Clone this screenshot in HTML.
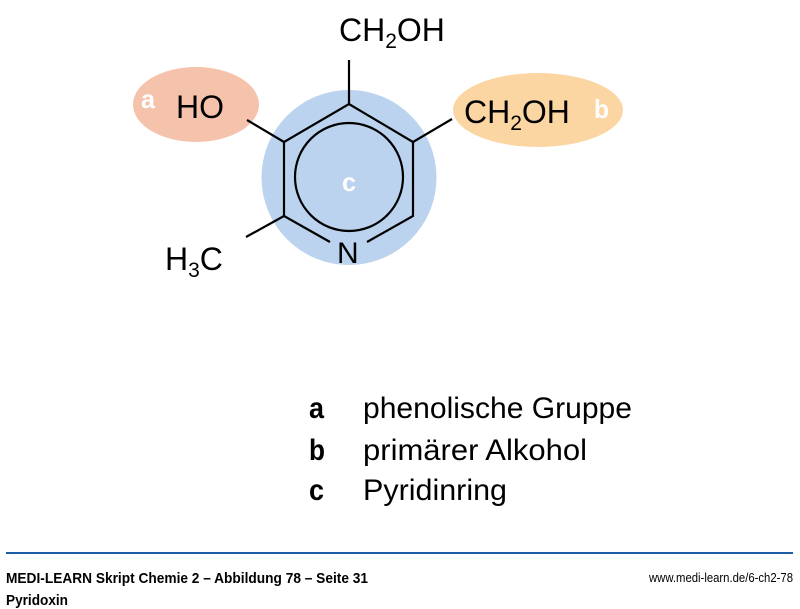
<!DOCTYPE html>
<html><head><meta charset="utf-8"><style>
html,body{margin:0;padding:0;background:#fff;}
svg{display:block;}
</style></head><body>
<svg width="800" height="609" viewBox="0 0 800 609" xmlns="http://www.w3.org/2000/svg" font-family="Liberation Sans, sans-serif">
<ellipse cx="196" cy="104.5" rx="63" ry="37.5" fill="#f5c2ab"/>
<ellipse cx="538" cy="110" rx="85" ry="37" fill="#fcd6a2"/>
<circle cx="349" cy="177.5" r="87.5" fill="#bbd3ee"/>
<g stroke="#000" stroke-width="2.2" fill="none" stroke-linecap="butt">
<circle cx="349" cy="177" r="54"/>
<polyline points="330,242 284,216 284,142 349,104 413,142 413,216 367,242"/>
<line x1="349" y1="60" x2="349" y2="104"/>
<line x1="247" y1="120" x2="284" y2="142"/>
<line x1="452" y1="119" x2="413" y2="142"/>
<line x1="246" y1="237" x2="284" y2="216"/>
</g>
<g font-size="32" fill="#000">
<text x="337" y="263" font-size="30">N</text>
<text x="339" y="41">CH<tspan font-size="21" dy="7">2</tspan><tspan dy="-7">OH</tspan></text>
<text x="176" y="118">HO</text>
<text x="464" y="123">CH<tspan font-size="21" dy="7">2</tspan><tspan dy="-7">OH</tspan></text>
<text x="165" y="270">H<tspan font-size="21" dy="7">3</tspan><tspan dy="-7">C</tspan></text>
</g>
<g fill="#fff" font-weight="bold" font-size="26">
<text x="141" y="108" textLength="14" lengthAdjust="spacingAndGlyphs">a</text>
<text x="594" y="118" textLength="15" lengthAdjust="spacingAndGlyphs">b</text>
<text x="342" y="191" textLength="14" lengthAdjust="spacingAndGlyphs">c</text>
</g>
<g font-size="30">
<text x="309" y="418" font-weight="bold" textLength="15" lengthAdjust="spacingAndGlyphs">a</text>
<text x="363" y="418" textLength="269" lengthAdjust="spacingAndGlyphs">phenolische Gruppe</text>
<text x="309" y="460" font-weight="bold" textLength="16" lengthAdjust="spacingAndGlyphs">b</text>
<text x="363" y="460" textLength="224" lengthAdjust="spacingAndGlyphs">primärer Alkohol</text>
<text x="309" y="500" font-weight="bold" textLength="15" lengthAdjust="spacingAndGlyphs">c</text>
<text x="363" y="500" textLength="144" lengthAdjust="spacingAndGlyphs">Pyridinring</text>
</g>
<line x1="6" y1="553" x2="793" y2="553" stroke="#1a5ea8" stroke-width="2"/>
<g font-size="15">
<text x="6" y="583" font-weight="bold" textLength="362" lengthAdjust="spacingAndGlyphs">MEDI-LEARN Skript Chemie 2 – Abbildung 78 – Seite 31</text>
<text x="793" y="582" text-anchor="end" font-size="13" textLength="144" lengthAdjust="spacingAndGlyphs">www.medi-learn.de/6-ch2-78</text>
<text x="6" y="605" font-weight="bold" textLength="62" lengthAdjust="spacingAndGlyphs">Pyridoxin</text>
</g>
</svg>
</body></html>
